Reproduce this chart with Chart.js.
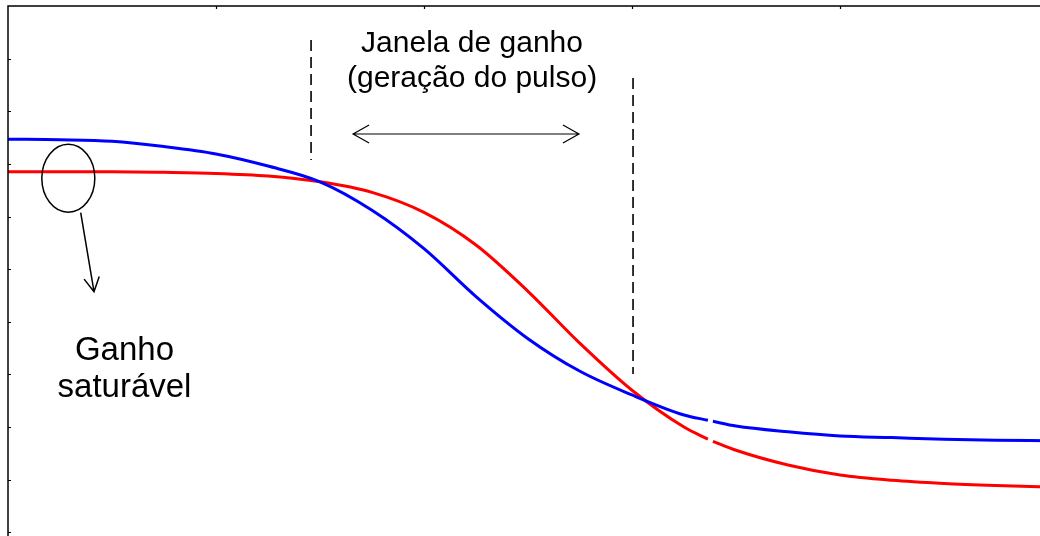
<!DOCTYPE html>
<html><head><meta charset="utf-8">
<script src="https://cdn.jsdelivr.net/npm/chart.js@4/dist/chart.umd.min.js"></script>
<style>
html,body{margin:0;padding:0;background:#fff;overflow:hidden;width:1040px;height:536px}
#wrap{position:absolute;left:0;top:0;width:1048px;height:585px}
</style></head><body><div id="wrap"><canvas id="c" width="1048" height="585"></canvas></div>
<script>
// ---- data (time in arbitrary units, gain in arbitrary units) ----
const timeAxis = [0, 0.25, 0.5, 0.75, 1.0, 1.25, 1.5, 1.75, 2.0, 2.25, 2.5, 2.75, 3.0, 3.25, 3.365, 3.377, 3.389, 3.5, 3.75, 4.0, 4.25, 4.5, 4.75, 5.0];
const gainBlue = [8.47, 8.46, 8.43, 8.33, 8.19, 7.96, 7.66, 7.12, 6.39, 5.48, 4.68, 4.06, 3.61, 3.23, 3.13, null, 3.11, 3.02, 2.91, 2.83, 2.80, 2.77, 2.75, 2.74];
const gainRed  = [7.85, 7.85, 7.85, 7.84, 7.82, 7.77, 7.66, 7.46, 7.08, 6.46, 5.58, 4.59, 3.70, 3.00, 2.77, null, 2.73, 2.56, 2.28, 2.09, 1.99, 1.93, 1.89, 1.86];
const xTicks = [1, 2, 3, 4];
const yTicks = [1, 2, 3, 4, 5, 6, 7, 8, 9, 10];
const textWindow = ["Janela de ganho", "(geração do pulso)"];
const textSat = ["Ganho", "saturável"];

// ---- annotation placement (data coordinates) ----
const ann = {
  dashLeft: {x: 1.457, y1: 10.354, y2: 8.074},
  dashRight: {x: 3.005, y1: 9.632, y2: 4.009},
  dblArrow: {x1: 1.659, x2: 2.745, y: 8.568},
  windowText: {x: 2.231, y1: 10.126, y2: 9.461},
  satText: {x: 0.56, y1: 4.275, y2: 3.572},
  ellipse: {x: 0.29, y: 7.727},
  satArrow: {x1: 0.3495, y1: 7.073, x2: 0.4135, y2: 5.572}
};

function pts(xs, ys){ return xs.map((x,i)=>({x:x, y:ys[i]})); }

const annotPlugin = {
  id: 'annot',
  afterDraw(chart){
    const ctx = chart.ctx, xs = chart.scales.x, ys = chart.scales.y, ca = chart.chartArea;
    const X = v => xs.getPixelForValue(v), Y = v => ys.getPixelForValue(v);
    ctx.save();
    ctx.strokeStyle = '#000'; ctx.lineWidth = 1.5; ctx.setLineDash([]);
    ctx.beginPath();
    ctx.moveTo(ca.left, ca.bottom); ctx.lineTo(ca.left, ca.top); ctx.lineTo(ca.right, ca.top);
    ctx.stroke();
    ctx.lineWidth = 1.2;
    ctx.beginPath();
    yTicks.forEach(v => { const p = Math.round(Y(v)) + 0.5; ctx.moveTo(ca.left, p); ctx.lineTo(ca.left + 3, p); });
    xTicks.forEach(v => { const p = Math.round(X(v)) + 0.5; ctx.moveTo(p, ca.top); ctx.lineTo(p, ca.top + 3); });
    ctx.stroke();
    ctx.lineWidth = 1.6; ctx.setLineDash([11, 6]);
    ctx.beginPath();
    ctx.moveTo(X(ann.dashLeft.x), Y(ann.dashLeft.y1)); ctx.lineTo(X(ann.dashLeft.x), Y(ann.dashLeft.y2));
    ctx.moveTo(X(ann.dashRight.x), Y(ann.dashRight.y1)); ctx.lineTo(X(ann.dashRight.x), Y(ann.dashRight.y2));
    ctx.stroke();
    ctx.setLineDash([]);
    const ax1 = X(ann.dblArrow.x1), ax2 = X(ann.dblArrow.x2), ay = Y(ann.dblArrow.y);
    ctx.lineWidth = 1.2;
    ctx.beginPath();
    ctx.moveTo(ax1, ay); ctx.lineTo(ax2, ay);
    ctx.moveTo(ax1 + 16, ay - 9); ctx.lineTo(ax1, ay); ctx.lineTo(ax1 + 16, ay + 9);
    ctx.moveTo(ax2 - 16, ay - 9); ctx.lineTo(ax2, ay); ctx.lineTo(ax2 - 16, ay + 9);
    ctx.stroke();
    ctx.lineWidth = 1.5;
    ctx.beginPath();
    ctx.ellipse(X(ann.ellipse.x), Y(ann.ellipse.y), 26.5, 34, 0, 0, Math.PI * 2);
    ctx.stroke();
    const sx = X(ann.satArrow.x1), sy = Y(ann.satArrow.y1), tx = X(ann.satArrow.x2), ty = Y(ann.satArrow.y2);
    const ang = Math.atan2(ty - sy, tx - sx), hl = 16, hw = 0.5;
    ctx.beginPath();
    ctx.moveTo(sx, sy); ctx.lineTo(tx, ty);
    ctx.moveTo(tx - hl * Math.cos(ang - hw), ty - hl * Math.sin(ang - hw));
    ctx.lineTo(tx, ty);
    ctx.lineTo(tx - hl * Math.cos(ang + hw), ty - hl * Math.sin(ang + hw));
    ctx.stroke();
    ctx.fillStyle = '#000'; ctx.textAlign = 'center'; ctx.textBaseline = 'alphabetic';
    ctx.font = '30px "Liberation Sans", Arial, sans-serif';
    ctx.fillText(textWindow[0], X(ann.windowText.x), Y(ann.windowText.y1));
    ctx.fillText(textWindow[1], X(ann.windowText.x), Y(ann.windowText.y2));
    ctx.font = '33px "Liberation Sans", Arial, sans-serif';
    ctx.fillText(textSat[0], X(ann.satText.x), Y(ann.satText.y1));
    ctx.fillText(textSat[1], X(ann.satText.x), Y(ann.satText.y2));
    ctx.restore();
  }
};

new Chart(document.getElementById('c'), {
  type: 'line',
  data: {
    datasets: [
      {label: 'azul', data: pts(timeAxis, gainBlue), borderColor: '#0000ff', borderWidth: 3},
      {label: 'vermelho', data: pts(timeAxis, gainRed), borderColor: '#ff0000', borderWidth: 3}
    ]
  },
  options: {
    responsive: false,
    devicePixelRatio: 1,
    animation: false,
    spanGaps: false,
    layout: {padding: {left: 8, top: 6, right: 0, bottom: 0}},
    elements: {
      point: {radius: 0},
      line: {cubicInterpolationMode: 'monotone', fill: false, borderCapStyle: 'butt'}
    },
    scales: {
      x: {type: 'linear', min: 0, max: 5, display: false},
      y: {type: 'linear', min: 0, max: 11, display: false}
    },
    plugins: {legend: {display: false}, tooltip: {enabled: false}}
  },
  plugins: [annotPlugin]
});
</script></body></html>
